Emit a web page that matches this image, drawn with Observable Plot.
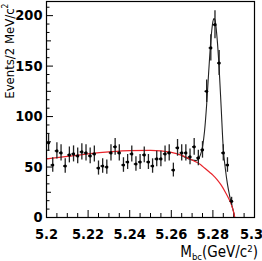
<!DOCTYPE html>
<html><head><meta charset="utf-8">
<script src="https://cdn.jsdelivr.net/npm/d3@7"></script>
<script src="https://cdn.jsdelivr.net/npm/@observablehq/plot@0.6"></script>
<style>
html,body{margin:0;padding:0;background:#fff;}
#chart svg{display:block;}
</style></head><body><div id="chart"></div>
<script>
// Bin centres (GeV/c^2) and event counts per 2 MeV/c^2
const binCenters = [5.201,5.203,5.205,5.207,5.209,5.211,5.213,5.215,5.217,5.219,
  5.221,5.223,5.225,5.227,5.229,5.231,5.233,5.235,5.237,5.239,
  5.241,5.243,5.245,5.247,5.249,5.251,5.253,5.255,5.257,5.259,
  5.261,5.263,5.265,5.267,5.269,5.271,5.273,5.275,5.277,5.279,
  5.281,5.283,5.285,5.287,5.289];
const events = [74,52,66,64,51,62,63,61,65,64,
  61,63,49,51,50,64,70,64,52,55,
  63,53,55,62,55,51,58,58,63,64,
  47,69,64,64,60,70,59,67,125,168,
  191,153,64,52,16];

// Background (ARGUS) curve
const bgMass = [5.200,5.210,5.220,5.230,5.240,5.250,5.255,5.260,5.265,5.270,5.272,5.274,5.276,5.278,5.280,5.282,5.284,5.286,5.288,5.289,5.290,5.2905];
const bgFit  = [58,60.5,63,65,66.3,66.5,66,64.5,61.5,57,55,52.5,49,45.5,42,37.5,32,25,17,12,5,0];

// Total fit curve (signal + background)
const totMass = [5.265,5.270,5.272,5.274,5.275,5.276,5.277,5.278,5.279,5.280,5.2805,5.281,5.282,5.283,5.284,5.285,5.286,5.287,5.288,5.289,5.290,5.2905];
const totFit  = [61.5,57,56.5,62,70,86,112,145,175,194,197,196,178,148,108,68,48,33,22,13,5,0];

const xTicks = [5.2,5.22,5.24,5.26,5.28,5.3];
const xMinorTicks = [5.205,5.21,5.215,5.225,5.23,5.235,5.245,5.25,5.255,5.265,5.27,5.275,5.285,5.29,5.295];
const yTicks = [0,50,100,150,200];
const yMidTicks = [25,75,125,175];
const yMinorTicks = [8.33,16.67,33.33,41.67,58.33,66.67,83.33,91.67,108.33,116.67,133.33,141.67,158.33,166.67,183.33,191.67,208.33];

const W = 262, H = 261, mL = 46, mR = 8, mT = 1, mB = 44;
const fw = W - mL - mR, fh = H - mT - mB;

const pts = binCenters.map((m, i) => ({m, n: events[i], e: Math.sqrt(events[i])}));
const bg = bgMass.map((m, i) => ({m, v: bgFit[i]}));
const tot = totMass.map((m, i) => ({m, v: totFit[i]}));

const font = "'Liberation Sans Narrow','DejaVu Sans Condensed','Liberation Sans',sans-serif";

const chart = Plot.plot({
  width: W, height: H,
  marginLeft: mL, marginRight: mR, marginTop: mT, marginBottom: mB,
  style: {fontFamily: font, fontSize: "14.5px", fontWeight: "bold", color: "#000", background: "#fff"},
  x: {domain: [5.2, 5.3]},
  y: {domain: [0, 214]},
  marks: [
    Plot.axisX(xTicks.slice(0, -1), {tickSize: 0, tickPadding: 11, tickFormat: d => String(+d.toFixed(2)), label: null}),
    Plot.axisX(xTicks.slice(-1), {tickSize: 0, tickPadding: 11, dx: -3, tickFormat: d => String(+d.toFixed(2)), label: null}),
    Plot.axisY(yTicks, {tickSize: 0, tickPadding: 4, label: null}),
    Plot.tickX(xTicks, {x: d => d, insetTop: fh - 7, stroke: "#000"}),
    Plot.tickX(xMinorTicks, {x: d => d, insetTop: fh - 4, stroke: "#000"}),
    Plot.tickY(yTicks, {y: d => d, insetRight: fw - 7, stroke: "#000"}),
    Plot.tickY(yMidTicks, {y: d => d, insetRight: fw - 5, stroke: "#000"}),
    Plot.tickY(yMinorTicks, {y: d => d, insetRight: fw - 3.5, stroke: "#000"}),
    Plot.line(tot, {x: "m", y: "v", stroke: "#222", strokeWidth: 1.1, curve: "monotone-x"}),
    Plot.line(bg, {x: "m", y: "v", stroke: "#e8232a", strokeWidth: 1.2, curve: "monotone-x"}),
    Plot.ruleX(pts, {x: "m", y1: d => d.n - d.e, y2: d => d.n + d.e, stroke: "#222", strokeWidth: 1.3}),
    Plot.ruleY(pts, {y: "n", x1: d => d.m - 0.0008, x2: d => d.m + 0.0008, stroke: "#000", strokeWidth: 1.3}),
    Plot.dot(pts, {x: "m", y: "n", r: 1.6, fill: "#000", stroke: null}),
    Plot.frame({stroke: "#000", strokeWidth: 1.2})
  ]
});
document.getElementById("chart").appendChild(chart);

const svg = d3.select(chart);
// y-axis title
const yt = svg.append("text")
  .attr("transform", "translate(13.5,3.5) rotate(-90)")
  .attr("text-anchor", "end")
  .attr("font-family", font).attr("font-size", 13).attr("font-weight", "normal").attr("fill", "#000");
yt.append("tspan").text("Events/2 MeV/c");
yt.append("tspan").attr("font-size", 8.5).attr("dy", -5.5).text("2");
// x-axis title
const xt = svg.append("text")
  .attr("x", 258).attr("y", 257)
  .attr("text-anchor", "end")
  .attr("font-family", font).attr("font-size", 15).attr("font-weight", "normal").attr("fill", "#000");
xt.append("tspan").text("M");
xt.append("tspan").attr("font-size", 9.5).attr("dy", 3).text("bc");
xt.append("tspan").attr("dy", -3).text("(GeV/c");
xt.append("tspan").attr("font-size", 9.5).attr("dy", -5).text("2");
xt.append("tspan").attr("dy", 5).text(")");
</script></body></html>
